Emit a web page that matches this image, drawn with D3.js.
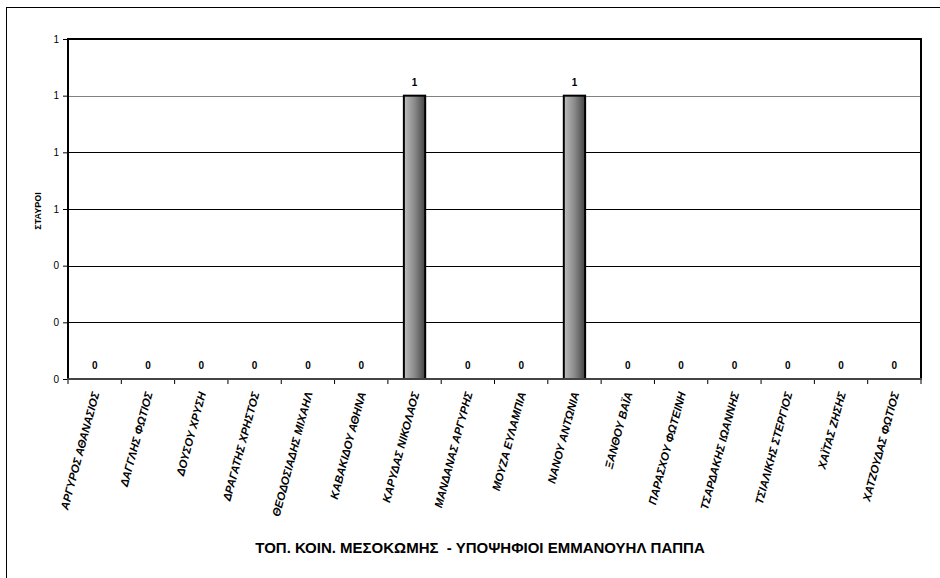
<!DOCTYPE html>
<html><head><meta charset="utf-8">
<script src="https://cdn.jsdelivr.net/npm/d3@7"></script>
<style>body{margin:0;background:#fff;} svg{display:block;font-family:"Liberation Sans",Arial,sans-serif;}</style>
</head><body>
<script>
const categories = ["ΑΡΓΥΡΟΣ ΑΘΑΝΑΣΙΟΣ","ΔΑΓΓΛΗΣ ΦΩΤΙΟΣ","ΔΟΥΣΟΥ ΧΡΥΣΗ","ΔΡΑΓΑΤΗΣ ΧΡΗΣΤΟΣ","ΘΕΟΔΟΣΙΑΔΗΣ ΜΙΧΑΗΛ","ΚΑΒΑΚΙΔΟΥ ΑΘΗΝΑ","ΚΑΡΥΔΑΣ ΝΙΚΟΛΑΟΣ","ΜΑΝΔΑΝΑΣ ΑΡΓΥΡΗΣ","ΜΟΥΖΑ ΕΥΛΑΜΠΙΑ","ΝΑΝΟΥ ΑΝΤΩΝΙΑ","ΞΑΝΘΟΥ ΒΑΪΑ","ΠΑΡΑΣΧΟΥ ΦΩΤΕΙΝΗ","ΤΣΑΡΔΑΚΗΣ ΙΩΑΝΝΗΣ","ΤΣΙΑΛΙΚΗΣ ΣΤΕΡΓΙΟΣ","ΧΑΪΤΑΣ ΖΗΣΗΣ","ΧΑΤΖΟΥΔΑΣ ΦΩΤΙΟΣ"];
const values = [0,0,0,0,0,0,1,0,0,1,0,0,0,0,0,0];
const yTicks = [0,0.2,0.4,0.6,0.8,1.0,1.2];
const xTitle = "ΤΟΠ. ΚΟΙΝ. ΜΕΣΟΚΩΜΗΣ  - ΥΠΟΨΗΦΙΟΙ ΕΜΜΑΝΟΥΗΛ ΠΑΠΠΑ";
const yTitle = "ΣΤΑΥΡΟΙ";

const W=940,H=578;
const m={left:68,top:39,right:921,bottom:379};
const svg=d3.select("body").append("svg").attr("width",W).attr("height",H);
const defs=svg.append("defs");
const g=defs.append("linearGradient").attr("id","barg").attr("x1","0").attr("x2","1").attr("y1","0").attr("y2","0");
g.append("stop").attr("offset","0").attr("stop-color","#bdbdbd");
g.append("stop").attr("offset","0.5").attr("stop-color","#8a8a8a");
g.append("stop").attr("offset","1").attr("stop-color","#444");

// outer border
svg.append("rect").attr("x",6.5).attr("y",7.5).attr("width",W).attr("height",H).attr("fill","none").attr("stroke","#000").attr("stroke-width",1);

const x=d3.scaleBand().domain(categories).range([m.left,m.right]).paddingInner(0).paddingOuter(0);
const y=d3.scaleLinear().domain([0,1.2]).range([m.bottom,m.top]);

// gridlines
svg.append("g").selectAll("line").data(yTicks.filter(t=>t>0 && t<1.2)).join("line")
  .attr("x1",m.left).attr("x2",m.right)
  .attr("y1",d=>Math.round(y(d))+0.5).attr("y2",d=>Math.round(y(d))+0.5)
  .attr("stroke",d=>Math.abs(d-1)<1e-9?"#808080":"#000").attr("stroke-width",1);

// y axis
const ya=svg.append("g").attr("transform",`translate(${m.left},0)`)
  .call(d3.axisLeft(y).tickValues(yTicks).tickFormat(d3.format(".0f")).tickSize(5).tickPadding(4));
ya.select(".domain").remove();
ya.selectAll(".tick line").attr("stroke","#000");
ya.selectAll("text").attr("font-size",10).attr("fill","#000").attr("font-family","Liberation Sans, Arial, sans-serif");

// x axis ticks at boundaries
const xa=svg.append("g").attr("transform",`translate(0,${m.bottom})`);
xa.selectAll("line").data(d3.range(categories.length+1)).join("line")
  .attr("x1",i=>m.left+i*x.bandwidth()).attr("x2",i=>m.left+i*x.bandwidth())
  .attr("y1",0).attr("y2",5).attr("stroke","#000");
xa.selectAll("text").data(categories).join("text")
  .attr("transform",d=>`translate(${x(d)+x.bandwidth()/2+1},13) rotate(-75)`)
  .attr("text-anchor","end").attr("dy","0.35em")
  .attr("font-size",11.3).attr("font-weight","bold").attr("font-style","italic").text(d=>d);

// bars
const bw=x.bandwidth()*0.4;
svg.append("g").selectAll("rect").data(values.map((v,i)=>({c:categories[i],v}))).join("rect")
  .attr("x",d=>x(d.c)+(x.bandwidth()-bw)/2).attr("width",bw)
  .attr("y",d=>y(d.v)).attr("height",d=>y(0)-y(d.v))
  .attr("fill","url(#barg)").attr("stroke","#000").attr("stroke-width",d=>d.v>0?2:0);

// data labels
svg.append("g").selectAll("text").data(values.map((v,i)=>({c:categories[i],v}))).join("text")
  .attr("x",d=>x(d.c)+x.bandwidth()/2).attr("y",d=>y(d.v)-10)
  .attr("text-anchor","middle").attr("font-size",10).attr("font-weight","bold").attr("fill","#000").text(d=>d.v);

// plot border
svg.append("path").attr("d",`M${m.left},${m.bottom}V${m.top}H${m.right}V${m.bottom}`)
  .attr("fill","none").attr("stroke","#000").attr("stroke-width",2);
svg.append("line").attr("x1",m.left-1).attr("x2",m.right+1).attr("y1",m.bottom).attr("y2",m.bottom)
  .attr("stroke","#444").attr("stroke-width",2);

// titles
svg.append("text").attr("x",480).attr("y",553).attr("text-anchor","middle")
  .attr("font-size",15).attr("font-weight","bold").style("white-space","pre").text(xTitle);
svg.append("text").attr("transform","translate(41,211) rotate(-90)").attr("text-anchor","middle")
  .attr("font-size",9).attr("font-weight","bold").text(yTitle);
</script>
</body></html>
